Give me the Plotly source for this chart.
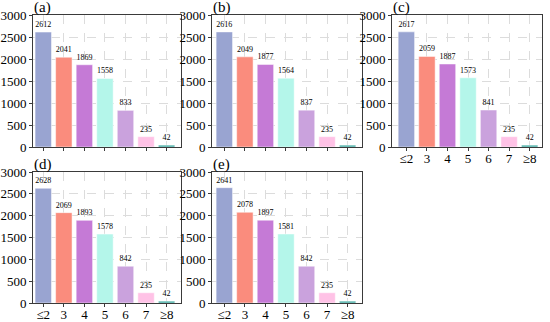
import plotly.graph_objects as go

categories = ["≤2", "3", "4", "5", "6", "7", "≥8"]
panel_labels = ["(a)", "(b)", "(c)", "(d)", "(e)"]
vals_a = [2612, 2041, 1869, 1558, 833, 235, 42]
vals_b = [2616, 2049, 1877, 1564, 837, 235, 42]
vals_c = [2617, 2059, 1887, 1573, 841, 235, 42]
vals_d = [2628, 2069, 1893, 1578, 842, 235, 42]
vals_e = [2641, 2078, 1897, 1581, 842, 235, 42]
y_ticks = [0, 500, 1000, 1500, 2000, 2500, 3000]

colors = ["#99a4d1", "#fa8c7d", "#c57ad6", "#b4f6ea", "#caa2dd", "#ffc2e6", "#3ca9a0"]

W, H = 550, 322
# pixel boxes of each panel frame: (x0, x1, ytop, ybottom)
boxes = [
    (33, 181, 15, 147),
    (212, 362, 15, 147),
    (392, 542, 15, 147),
    (33, 181, 172, 303),
    (212, 362, 172, 303),
]
xranges = [(-0.5, 6.7), (-0.6, 6.7), (-0.7, 6.6), (-0.5, 6.7), (-0.6, 6.7)]
show_xlabels = [False, False, True, True, True]
series = [vals_a, vals_b, vals_c, vals_d, vals_e]

fig = go.Figure()
FONT = "Liberation Serif, Times New Roman, serif"
layout = dict(
    template="none",
    width=W, height=H, margin=dict(l=0, r=0, t=0, b=0, autoexpand=False),
    paper_bgcolor="white", plot_bgcolor="white",
    showlegend=False, font=dict(family=FONT, color="black"),
    annotations=[],
)
xs = list(range(len(categories)))
for i, vals in enumerate(series):
    n = "" if i == 0 else str(i + 1)
    x0, x1, yt, yb = boxes[i]
    fig.add_trace(go.Bar(
        x=xs, y=vals, xaxis="x" + n, yaxis="y" + n,
        marker=dict(color=colors, line=dict(color="white", width=0.5)),
        width=0.8,
        text=[str(v) for v in vals], textposition="outside",
        textfont=dict(size=8, family=FONT, color="black"),
        constraintext="none", cliponaxis=False, hoverinfo="skip",
    ))
    common = dict(
        showline=True, mirror=True, linecolor="#3a3a3a", linewidth=1,
        ticks="outside", ticklen=3, tickcolor="#3a3a3a", tickwidth=1,
        showgrid=True, gridcolor="#dcdcdc", griddash="dash", gridwidth=1,
        zeroline=False, automargin=False,
        tickfont=dict(size=13, family=FONT, color="black"),
    )
    layout["xaxis" + n] = dict(
        common, domain=[x0 / W, x1 / W], anchor="y" + n,
        range=list(xranges[i]), tickmode="array", tickvals=xs, ticktext=categories,
        showticklabels=show_xlabels[i], ticklabelstandoff=-4,
    )
    layout["yaxis" + n] = dict(
        common, domain=[1 - yb / H, 1 - yt / H], anchor="x" + n,
        range=[0, 3000], tickmode="array", tickvals=y_ticks,
    )
    layout["annotations"].append(dict(
        text=panel_labels[i], xref="paper", yref="paper",
        x=(x0 - 1) / W, y=1 - (yt + 3) / H, xanchor="left", yanchor="bottom",
        showarrow=False, font=dict(size=15, family=FONT, color="black"),
    ))

fig.update_layout(**layout)
fig.write_html("out.html", config={"displayModeBar": False},
               post_script="document.body.style.margin='0';")
